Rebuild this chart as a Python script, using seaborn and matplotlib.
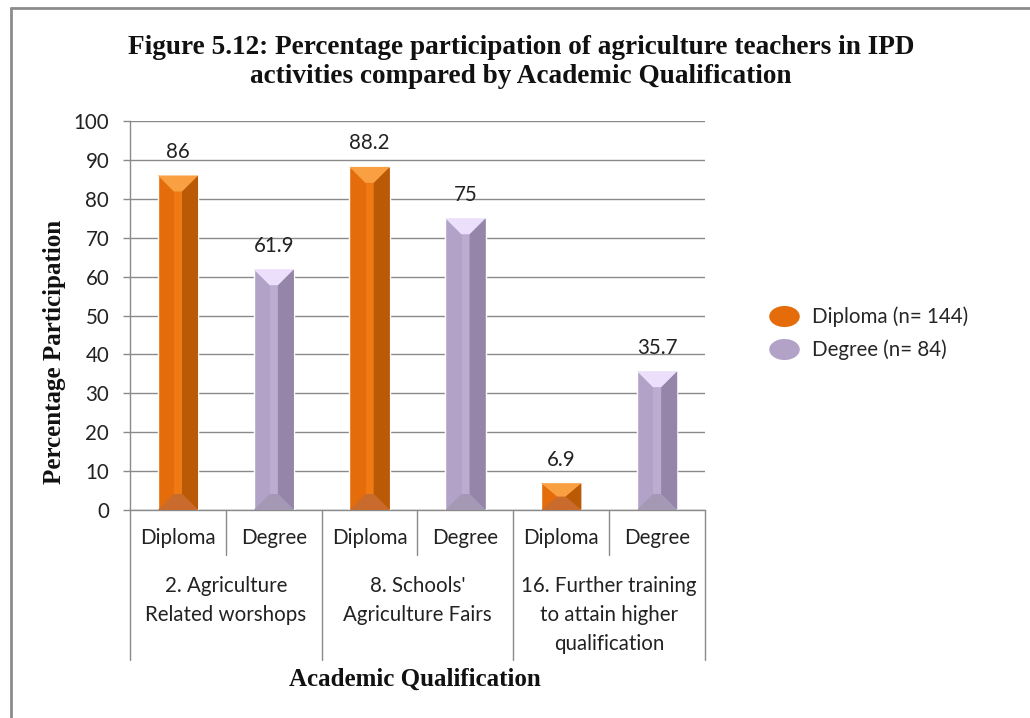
import numpy as np
import pandas as pd
import matplotlib
matplotlib.use("Agg")
import matplotlib.pyplot as plt
import matplotlib.transforms as mtransforms
from matplotlib.patches import Polygon, Rectangle
from matplotlib.lines import Line2D
from matplotlib.path import Path
import seaborn as sns

# ---- data -------------------------------------------------------------
activities = [
    "2. Agriculture\nRelated worshops",
    "8. Schools'\nAgriculture Fairs",
    "16. Further training\nto attain higher\nqualification",
]
qualifications = ["Diploma", "Degree"]
diploma_pct = [86, 88.2, 6.9]
degree_pct = [61.9, 75, 35.7]
legend_labels = ["Diploma (n= 144)", "Degree (n= 84)"]
y_ticks = list(range(0, 101, 10))

title = ("Figure 5.12: Percentage participation of agriculture teachers in IPD\n"
         "activities compared by Academic Qualification")
x_title = "Academic Qualification"
y_title = "Percentage Participation"

# ---- styling ----------------------------------------------------------
palette = {"Diploma": "#E46C0A", "Degree": "#B3A2C7"}
shades = {
    "Diploma": dict(top="#F9A043", right="#BA5A07", bottom="#C86B2C", stripe="#EF7A14"),
    "Degree": dict(top="#EBDFFB", right="#9586A9", bottom="#A498B5", stripe="#BCACD0"),
}
grid_col = "#8A8A8A"
txt_col = "#222222"
fs = 14.8
sans = ["Lato", "DejaVu Sans"]
serif = ["Liberation Serif", "DejaVu Serif"]

sns.set_theme(style="white")
plt.rcParams["font.family"] = sans

rows = []
for act, d, g in zip(activities, diploma_pct, degree_pct):
    rows.append(dict(activity=act, qual="Diploma", value=d))
    rows.append(dict(activity=act, qual="Degree", value=g))
df = pd.DataFrame(rows)
df["slot"] = df["activity"] + "|" + df["qual"]
order = [f"{a}|{q}" for a in activities for q in qualifications]

fig = plt.figure(figsize=(10.3, 7.18), dpi=100)
ax = fig.add_axes([130 / 1030, 1 - 510 / 718, 575 / 1030, 389 / 718])

sns.barplot(data=df, x="slot", y="value", hue="qual", order=order,
            hue_order=qualifications, palette=palette, dodge=False,
            width=0.42, saturation=1, legend=False, ax=ax, zorder=3)

ax.set_xlim(-0.5, len(order) - 0.5)
ax.set_ylim(0, 100)
ax.set_yticks(y_ticks)
ax.set_yticklabels([str(t) for t in y_ticks], fontsize=fs, color=txt_col)
ax.yaxis.grid(True, color=grid_col, lw=1, zorder=0)
ax.set_axisbelow(True)
for s in ["top", "right"]:
    ax.spines[s].set_visible(False)
for s in ["left", "bottom"]:
    ax.spines[s].set_color(grid_col)
    ax.spines[s].set_linewidth(1)
ax.tick_params(axis="y", length=5, width=1, color=grid_col, pad=10, left=True)
ax.set_xlabel("")
ax.set_ylabel("")

# lower-level category labels
sub_labels = [q for a in activities for q in qualifications]
ax.set_xticks(range(len(order)))
ax.set_xticklabels(sub_labels, fontsize=fs, color=txt_col)
ax.tick_params(axis="x", length=0, pad=13)

# ---- bevelled bar faces -------------------------------------------------
fig.canvas.draw()
p0 = ax.transData.transform((0, 0))
p1 = ax.transData.transform((1, 1))
px_x = p1[0] - p0[0]
px_y = p1[1] - p0[1]
bevel_px = 16
stripe_px = 8

def hue_of(patch):
    fc = patch.get_facecolor()[:3]
    for q, c in palette.items():
        if np.allclose(fc, matplotlib.colors.to_rgb(c), atol=0.02):
            return q
    return None

for patch in list(ax.patches):
    h = patch.get_height()
    q = hue_of(patch)
    if q is None or not np.isfinite(h) or h <= 0:
        continue
    x0 = patch.get_x()
    x1 = x0 + patch.get_width()
    bx = bevel_px / px_x
    by = min(bevel_px / px_y, h / 2)
    sx = stripe_px / px_x
    sh = shades[q]
    ax.add_patch(Rectangle((x1 - bx - sx, by), sx, h - 2 * by,
                           facecolor=sh["stripe"], lw=0, zorder=4))
    ax.add_patch(Polygon([(x1, h), (x1, 0), (x1 - bx, by), (x1 - bx, h - by)],
                         closed=True, facecolor=sh["right"], lw=0, zorder=4))
    ax.add_patch(Polygon([(x0, 0), (x1, 0), (x1 - bx, by), (x0 + bx, by)],
                         closed=True, facecolor=sh["bottom"], lw=0, zorder=5))
    ax.add_patch(Polygon([(x0, h), (x1, h), (x1 - bx, h - by), (x0 + bx, h - by)],
                         closed=True, facecolor=sh["top"], lw=0, zorder=5))
    ax.annotate(f"{h:g}", xy=((x0 + x1) / 2, h), xytext=(0, 17),
                textcoords="offset points", ha="center", va="center",
                fontsize=fs, color=txt_col, zorder=6)

# ---- multi-level category axis -------------------------------------------
blend = mtransforms.blended_transform_factory(ax.transData, ax.transAxes)
sub_drop = -45 / 389
grp_drop = -150 / 389
for i in range(len(order) + 1):
    xb = i - 0.5
    depth = grp_drop if i % 2 == 0 else sub_drop
    ax.add_line(Line2D([xb, xb], [0, depth], transform=blend, color=grid_col,
                       lw=1, clip_on=False))
for j, act in enumerate(activities):
    ax.text(2 * j + 0.5, -66 / 389, act, transform=blend, ha="center", va="top",
            fontsize=fs, color=txt_col, linespacing=1.55)

# ---- titles -------------------------------------------------------------
fig.text(521 / 1030, 1 - 62 / 718, title, ha="center", va="center",
         family=serif, fontweight="bold", fontsize=19.6, linespacing=1.2,
         color="#111111")
fig.text(415 / 1030, 1 - 679 / 718, x_title, ha="center", va="center",
         family=serif, fontweight="bold", fontsize=18, color="#111111")
fig.text(54 / 1030, 1 - 352 / 718, y_title, ha="center", va="center",
         rotation=90, family=serif, fontweight="bold", fontsize=18,
         color="#111111")

# ---- legend with oval keys -------------------------------------------------
oval = Path.unit_circle().transformed(mtransforms.Affine2D().scale(1.45, 1.0))
handles = [Line2D([], [], marker=oval, markersize=22, linestyle="none",
                  markerfacecolor=palette[q], markeredgewidth=0)
           for q in qualifications]
fig.legend(handles, legend_labels, loc="center left",
           bbox_to_anchor=(760 / 1030, 1 - 333 / 718), frameon=False,
           fontsize=fs, handlelength=1.3, handletextpad=0.75,
           labelspacing=0.6, borderpad=0)

# ---- page frame -------------------------------------------------------------
fig.add_artist(Line2D([11 / 1030, 11 / 1030], [0, 1 - 8 / 718],
                      transform=fig.transFigure, color="#8C8C8C", lw=2))
fig.add_artist(Line2D([11 / 1030, 1], [1 - 8 / 718, 1 - 8 / 718],
                      transform=fig.transFigure, color="#8C8C8C", lw=2))

fig.savefig("out.png", dpi=100, facecolor="white")
